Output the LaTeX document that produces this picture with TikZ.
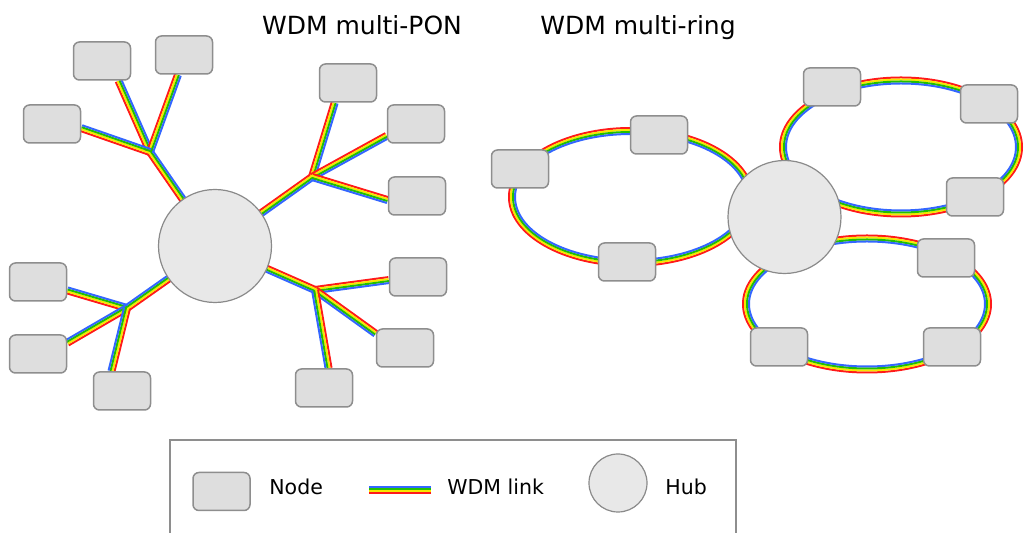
\documentclass[tikz,border=0pt]{standalone}
\usepackage{fontspec}
\setmainfont{DejaVu Sans}
\usetikzlibrary{calc, backgrounds}

\definecolor{boxfill}{HTML}{DEDEDE}
\definecolor{boxline}{HTML}{8E8E8E}
\definecolor{hubfill}{HTML}{E8E8E8}
\definecolor{hubline}{HTML}{8A8A8A}
\definecolor{wred}{HTML}{FF1A1A}
\definecolor{wyel}{HTML}{F5E800}
\definecolor{wgrn}{HTML}{22C000}
\definecolor{wblu}{HTML}{3366FF}

% four-colour fibre, red stripe on the left of #1 -> #2
\newcommand{\wdmlink}[2]{%
  \foreach \col/\off/\angA/\angB in {wred/1.5/90/-90, wyel/0.5/90/-90, wgrn/0.5/-90/90, wblu/1.5/-90/90}
    \draw[\col, line width=1pt] ($(#1)!\off pt!\angA:(#2)$) -- ($(#2)!\off pt!\angB:(#1)$);}
% closed ring, red stripe outside
\newcommand{\wdmring}[3]{%
  \foreach \col/\off in {wred/3, wyel/1, wgrn/-1, wblu/-3}
    \draw[\col, line width=1pt] (#1) ellipse [x radius={#2+(\off)}, y radius={#3+(\off)}];}

\begin{document}
\begin{tikzpicture}[x=0.5pt, y=-0.5pt,
    station/.style={draw=boxline, fill=boxfill, line width=0.75pt, rounded corners=3pt,
        minimum width=28.5pt, minimum height=19pt, inner sep=0pt},
    hub/.style={circle, draw=hubline, fill=hubfill, line width=0.6pt, minimum size=56.5pt, inner sep=0pt},
    title/.style={font=\fontsize{12.5}{15}\selectfont, anchor=base, inner sep=0pt},
    legend/.style={font=\fontsize{10.25}{12}\selectfont, anchor=base west, inner sep=0pt}]
    \useasboundingbox (0,0) rectangle (1024,533);

    \node[title] (tpon) at (362,35) {WDM multi-PON};
    \node[title] (tring) at (638,35) {WDM multi-ring};

    % multi-PON
    \node[hub] (hubA) at (215,246) {};
    \node[station] (a1) at (102,61) {};
    \node[station] (a2) at (184,55) {};
    \node[station] (a3) at (52,124) {};
    \node[station] (b1) at (348,83) {};
    \node[station] (b2) at (416,124) {};
    \node[station] (b3) at (417,196) {};
    \node[station] (c1) at (38,282) {};
    \node[station] (c2) at (38,354) {};
    \node[station] (c3) at (122,391) {};
    \node[station] (d1) at (418,277) {};
    \node[station] (d2) at (405,348) {};
    \node[station] (d3) at (324,388) {};
    \coordinate (jA) at (150,152);
    \coordinate (jB) at (312,177);
    \coordinate (jC) at (127,308);
    \coordinate (jD) at (315,290);

    % multi-ring
    \node[hub] (hubB) at (784.5,217) {};
    \node[station] (r1) at (520,169) {};
    \node[station] (r2) at (659,135) {};
    \node[station] (r3) at (627,262) {};
    \node[station] (s1) at (832,87) {};
    \node[station] (s2) at (989,104) {};
    \node[station] (s3) at (975,197) {};
    \node[station] (t1) at (946,258) {};
    \node[station] (t2) at (779,347) {};
    \node[station] (t3) at (952,347) {};

    \begin{scope}[on background layer]
        \wdmlink{hubA}{jA} \wdmlink{jA}{a1.-50} \wdmlink{jA}{a2.-107} \wdmlink{jA}{a3.-8}
        \wdmlink{hubA}{jB} \wdmlink{jB}{b1.-124} \wdmlink{jB}{b2.-158} \wdmlink{jB}{b3.-172}
        \wdmlink{hubA}{jC} \wdmlink{jC}{c1.-16} \wdmlink{jC}{c2.21} \wdmlink{jC}{c3.118}
        \wdmlink{hubA}{jD} \wdmlink{jD}{d1.-174} \wdmlink{jD}{d2.154} \wdmlink{jD}{d3.77}
        \wdmring{631,197}{119}{66}
        \wdmring{901,147}{118}{66.5}
        \wdmring{867,304}{121}{65.5}
    \end{scope}

    % legend
    \draw[boxline, line width=0.6pt] (170,533) |- (736,440) -- (736,533);
    \node[station] (lnode) at (221.5,491.5) {};
    \node[legend] (lnodetxt) at (269,495) {Node};
    \coordinate (lkA) at (369,490.5);
    \coordinate (lkB) at (431,490.5);
    \wdmlink{lkB}{lkA}
    \node[legend] (llinktxt) at (447,495) {WDM link};
    \node[hub, minimum size=29pt] (lhub) at (618,483) {};
    \node[legend] (lhubtxt) at (665,495) {Hub};
\end{tikzpicture}
\end{document}
